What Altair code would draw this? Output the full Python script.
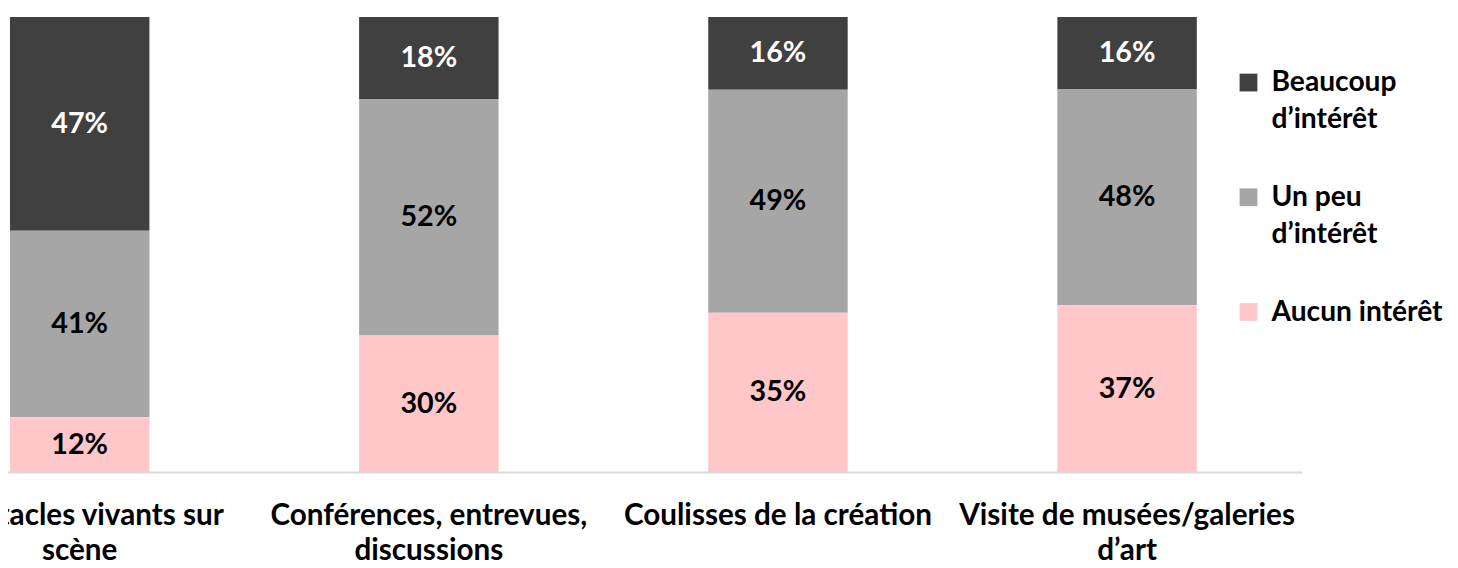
import altair as alt
import pandas as pd

# ---- data ----
categories = [
    "Spectacles vivants sur\nscène",
    "Conférences, entrevues,\ndiscussions",
    "Coulisses de la création",
    "Visite de musées/galeries\nd’art",
]
series = ["Beaucoup\nd’intérêt", "Un peu\nd’intérêt", "Aucun intérêt"]
beaucoup = [47, 18, 16, 16]
un_peu = [41, 52, 49, 48]
aucun = [12, 30, 35, 37]
colors = ["#404040", "#a6a6a6", "#ffc7c7"]
label_colors = ["white", "black", "black"]

rows = []
for i, cat in enumerate(categories):
    for j, (s, vals) in enumerate(zip(series, [beaucoup, un_peu, aucun])):
        rows.append({
            "category": cat,
            "series": s,
            "value": vals[i],
            "order": 2 - j,
            "label": f"{vals[i]}%",
            "tcolor": label_colors[j],
        })
df = pd.DataFrame(rows)

FONT = "Lato"

base = alt.Chart(df).transform_stack(
    stack="value",
    groupby=["category"],
    as_=["y0", "y1"],
    offset="normalize",
    sort=[alt.SortField("order", order="ascending")],
).transform_calculate(mid="(datum.y0 + datum.y1) / 2")

xenc = alt.X(
    "category:N",
    sort=categories,
    scale=alt.Scale(domain=categories, range=[-104, 1308], paddingInner=0, paddingOuter=0),
    axis=alt.Axis(
        title=None,
        ticks=False,
        tickSize=0,
        labelAngle=0,
        labelExpr="split(datum.label, '\\n')",
        labelFont=FONT,
        labelFontSize=30,
        labelFontWeight="bold",
        labelColor="black",
        labelPadding=29,
        labelLineHeight=36,
        labelLimit=0,
        labelOverlap=False,
        domainColor="#d9d9d9",
        domainWidth=2,
        grid=False,
    ),
)

yscale = alt.Scale(domain=[0, 1])

bars = base.mark_bar(size=141).encode(
    x=xenc,
    y=alt.Y("y0:Q", scale=yscale, axis=None),
    y2="y1:Q",
    color=alt.Color(
        "series:N",
        scale=alt.Scale(domain=series, range=colors),
        legend=alt.Legend(
            title=None,
            orient="none",
            legendX=1240,
            legendY=52,
            symbolType="square",
            symbolSize=324,
            symbolStrokeWidth=0,
            labelFont=FONT,
            labelFontSize=28.5,
            labelFontWeight="bold",
            labelColor="black",
            labelOffset=9,
            labelLimit=0,
            labelBaseline="middle",
            rowPadding=50,
            padding=0,
            labelExpr="split(datum.label, '\\n')",
        ),
    ),
)

texts = base.mark_text(font=FONT, fontSize=29, fontWeight="bold", baseline="middle").encode(
    x=alt.X("category:N", sort=categories),
    y=alt.Y("mid:Q", scale=yscale, axis=None),
    text="label:N",
    color=alt.Color("tcolor:N", scale=None),
)

chart = (
    alt.layer(bars, texts)
    .properties(
        width=1308,
        height=460,
        padding={"left": 0, "top": 6, "right": 150, "bottom": 94},
        autosize=alt.AutoSizeParams(type="none"),
    )
    .configure(style={"guide-label": {"lineHeight": 37}})
    .configure_view(stroke=None)
)

chart.save("out.html", embed_options={"renderer": "svg", "actions": False})
